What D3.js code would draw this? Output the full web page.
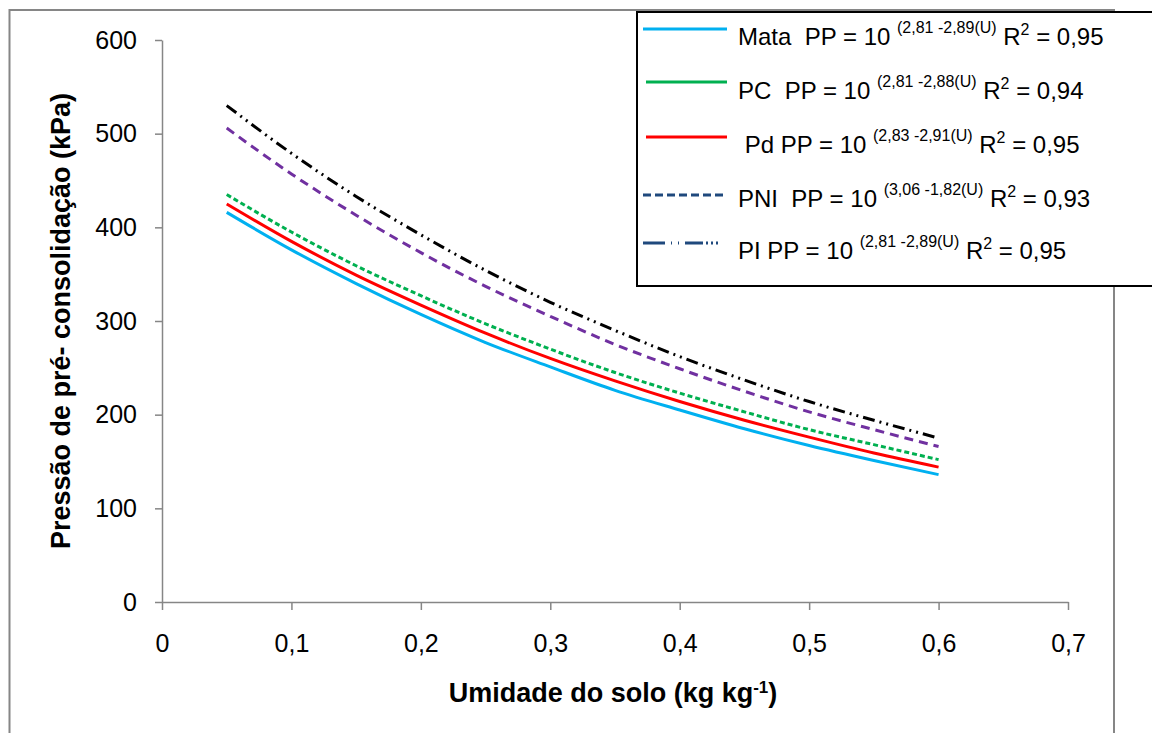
<!DOCTYPE html>
<html>
  <head>
    <meta charset="utf-8">
    <title>Pressão de pré-consolidação</title>
    <script src="https://d3js.org/d3.v7.min.js"></script>
    <style>
        body { margin: 0; background: white; }
        svg { display: block; font-family: "Liberation Sans", Arial, sans-serif; }
        .tick text { font-family: "Liberation Sans", Arial, sans-serif; }
    </style>
  </head>
  <body>
    <svg id="chart" width="1152" height="733"></svg>
  </body>
  <script>
    // soil moisture (kg kg-1) where the curves were read
    const moisture = [0.05, 0.10, 0.15, 0.20, 0.25, 0.30, 0.35, 0.40, 0.45, 0.50, 0.55, 0.60];
    // pre-consolidation pressure (kPa)
    const mata = [416, 376, 340, 307, 277, 251, 226, 205, 185, 167, 151, 136];
    const pc   = [435, 395, 359, 327, 297, 270, 245, 223, 203, 184, 168, 152];
    const pd   = [425, 385, 349, 317, 287, 260, 236, 214, 194, 176, 159, 144];
    const pni  = [506, 457, 413, 373, 337, 305, 275, 249, 225, 203, 184, 166];
    const pi   = [530, 479, 433, 392, 354, 320, 290, 262, 237, 214, 194, 175];

    const xTicks = [0, 0.1, 0.2, 0.3, 0.4, 0.5, 0.6, 0.7];
    const yTicks = [0, 100, 200, 300, 400, 500, 600];

    const legendNames = ["Mata  PP = 10 ", "PC  PP = 10 ", " Pd PP = 10 ", "PNI  PP = 10 ", "PI PP = 10 "];
    const legendExps  = ["(2,81 -2,89(U)", "(2,81 -2,88(U)", "(2,83 -2,91(U)", "(3,06 -1,82(U)", "(2,81 -2,89(U)"];
    const legendR2    = ["0,95", "0,94", "0,95", "0,93", "0,95"];

    const svg = d3.select("#chart");

    // chart area frame
    svg.append("rect")
        .attr("x", 9.5).attr("y", 10)
        .attr("width", 1104.5).attr("height", 740)
        .attr("fill", "white")
        .attr("stroke", "#868686")
        .attr("stroke-width", 2);

    const x = d3.scaleLinear().domain([0, 0.7]).range([162, 1068]);
    const y = d3.scaleLinear().domain([0, 600]).range([602, 40]);
    const fmt = d => String(d).replace(".", ",");

    // axes
    const yAxis = svg.append("g")
        .attr("transform", "translate(162,0)")
        .call(d3.axisLeft(y).tickValues(yTicks).tickSize(7).tickSizeOuter(0).tickPadding(18).tickFormat(fmt));
    const xAxis = svg.append("g")
        .attr("transform", "translate(0,602)")
        .call(d3.axisBottom(x).tickValues(xTicks).tickSize(8).tickSizeOuter(0).tickPadding(24).tickFormat(fmt));
    [xAxis, yAxis].forEach(a => {
        a.select(".domain").attr("stroke", "#868686").attr("stroke-width", 1.5);
        a.selectAll(".tick line").attr("stroke", "#868686").attr("stroke-width", 1.5);
        a.selectAll(".tick text").attr("fill", "black").style("font-size", "25px");
    });

    // curves
    const series = [
        { vals: pi,   color: "#000000", dash: "12,5,2,5,2,5" },
        { vals: pni,  color: "#7030A0", dash: "9,6" },
        { vals: pc,   color: "#00B050", dash: "5,3" },
        { vals: pd,   color: "#FF0000", dash: null },
        { vals: mata, color: "#00B0F0", dash: null }
    ];
    const line = d3.line()
        .x((d, i) => x(moisture[i]))
        .y(d => y(d))
        .curve(d3.curveMonotoneX);
    series.forEach(s => {
        svg.append("path")
            .datum(s.vals)
            .attr("d", line)
            .attr("fill", "none")
            .attr("stroke", s.color)
            .attr("stroke-width", 3)
            .attr("stroke-dasharray", s.dash);
    });

    // axis titles
    svg.append("text")
        .attr("transform", "translate(70,321) rotate(-90)")
        .attr("text-anchor", "middle")
        .style("font-size", "27px")
        .style("font-weight", "bold")
        .text("Pressão de pré- consolidação (kPa)");

    const xt = svg.append("text")
        .attr("x", 613).attr("y", 702)
        .attr("text-anchor", "middle")
        .style("font-size", "27px")
        .style("font-weight", "bold");
    xt.append("tspan").text("Umidade do solo (kg kg");
    xt.append("tspan").attr("dy", -9).style("font-size", "17px").text("-1");
    xt.append("tspan").attr("dy", 9).text(")");

    // legend
    const leg = svg.append("g");
    leg.append("rect")
        .attr("x", 637).attr("y", 12)
        .attr("width", 530).attr("height", 274)
        .attr("fill", "white")
        .attr("stroke", "black")
        .attr("stroke-width", 2);

    const legLines = [
        { y: 29,  color: "#00B0F0", dash: null, x0: 643 },
        { y: 82,  color: "#00B050", dash: null, x0: 646 },
        { y: 137, color: "#FF0000", dash: null, x0: 646 },
        { y: 195, color: "#1F497D", dash: "8,4", x0: 643 },
        { y: 243, color: "#1F497D", dash: "22,6,1,6,1,6,18,3,2,3,2,3,2", x0: 643 }
    ];
    const legBase = [45, 99, 153, 207, 259];

    legLines.forEach((l, i) => {
        leg.append("line")
            .attr("x1", l.x0).attr("x2", 727)
            .attr("y1", l.y).attr("y2", l.y)
            .attr("stroke", l.color)
            .attr("stroke-width", 3)
            .attr("stroke-dasharray", l.dash);

        const t = leg.append("text")
            .attr("x", 738).attr("y", legBase[i])
            .style("font-size", "24px")
            .style("white-space", "pre");
        t.append("tspan").text(legendNames[i]);
        t.append("tspan").attr("dy", -12).style("font-size", "16px").text(legendExps[i]);
        t.append("tspan").attr("dy", 12).text(" R");
        t.append("tspan").attr("dy", -10).style("font-size", "16px").text("2");
        t.append("tspan").attr("dy", 10).text(" = " + legendR2[i]);
    });
  </script>
</html>
